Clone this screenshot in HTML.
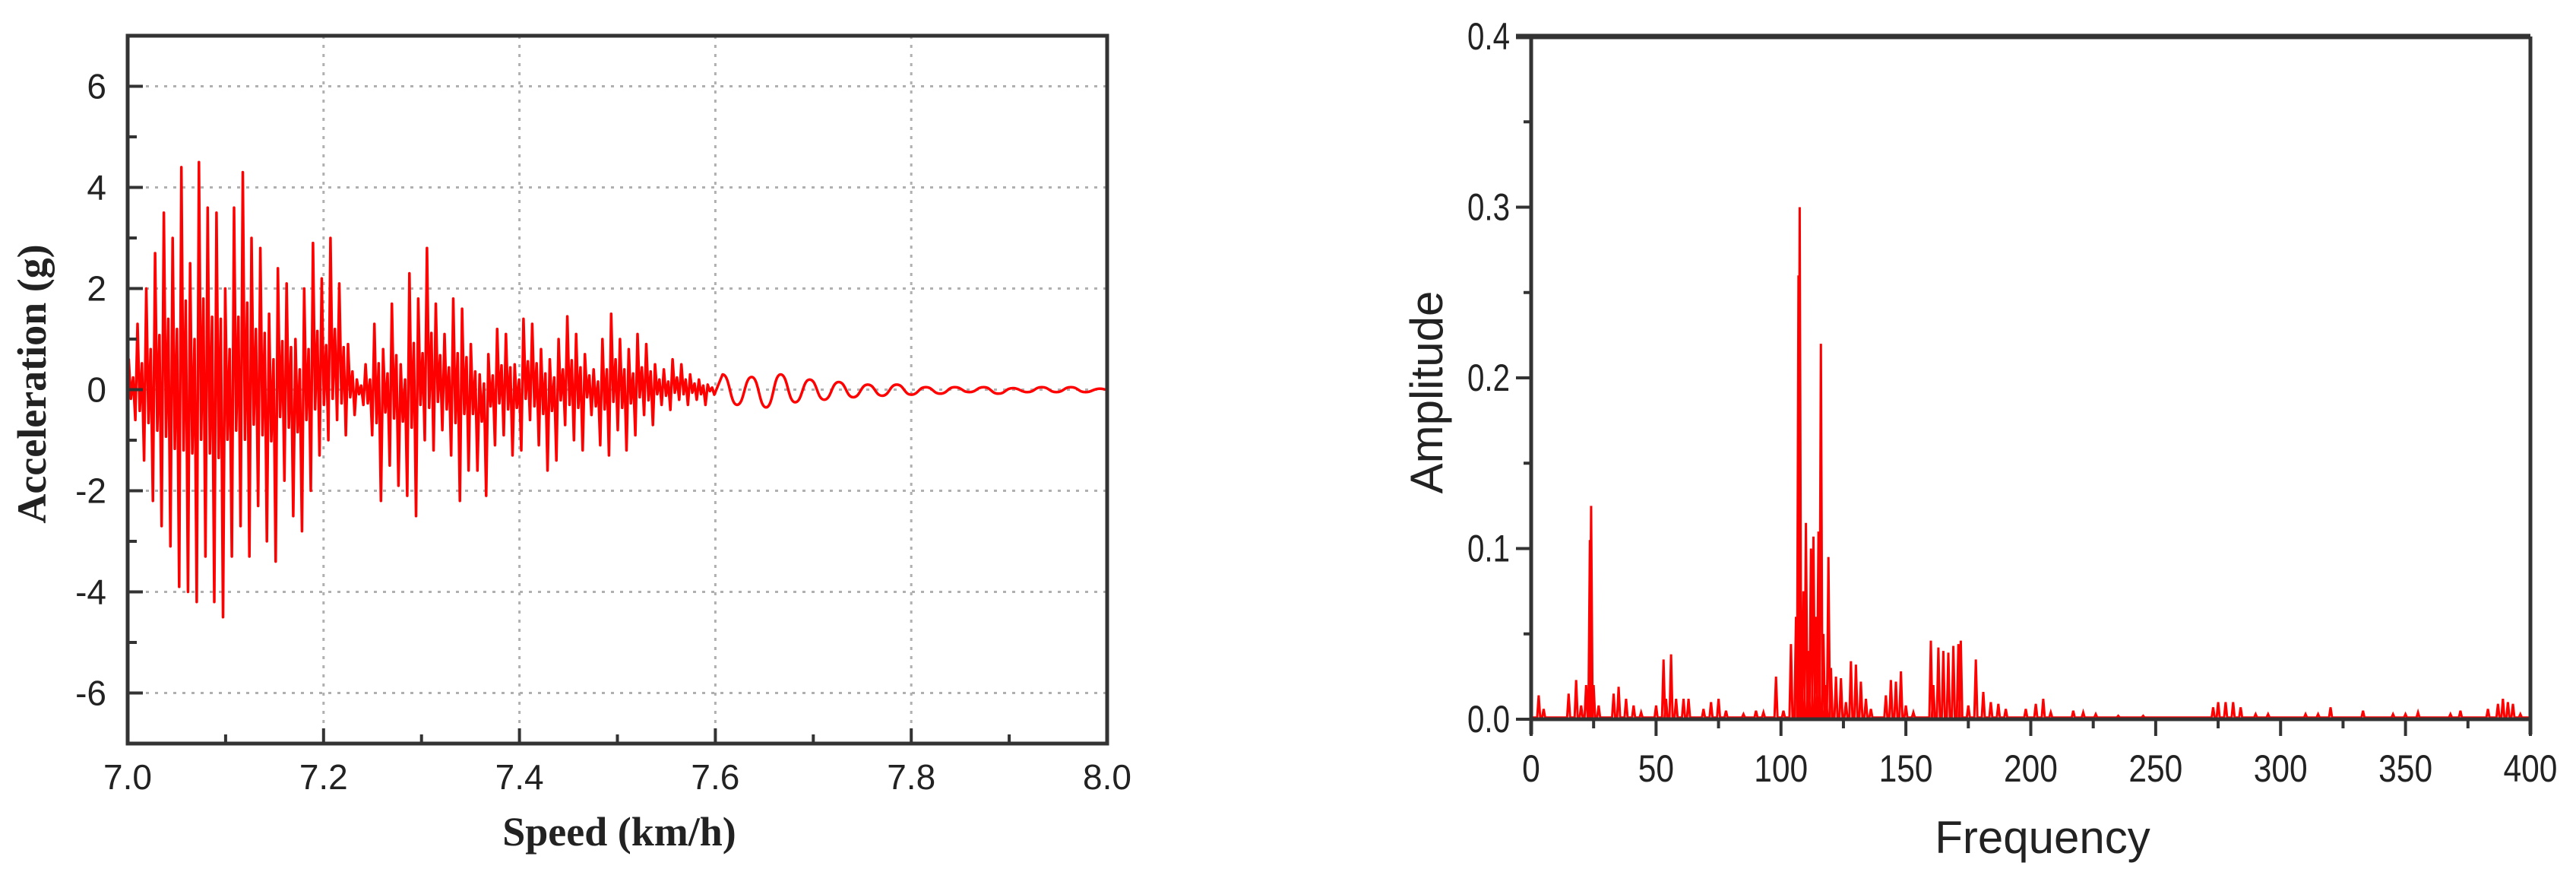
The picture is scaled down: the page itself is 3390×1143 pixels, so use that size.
<!DOCTYPE html>
<html><head><meta charset="utf-8"><style>
html,body{margin:0;padding:0;background:#fff;}
svg{display:block;}
</style></head><body>
<svg id="fig" width="3390" height="1143" xmlns="http://www.w3.org/2000/svg">
<g id="left"></g>
<g id="right"></g>
</svg>
<script>
// ---- Left chart data ----
const accXTicks = [7.0, 7.2, 7.4, 7.6, 7.8, 8.0];
const accXTickLabels = ["7.0","7.2","7.4","7.6","7.8","8.0"];
const accYTicks = [-6,-4,-2,0,2,4,6];
const accYTickLabels = ["-6","-4","-2","0","2","4","6"];
const accMaxima = [0.6,1.3,2.0,2.7,3.5,3.0,4.4,2.5,4.5,3.6,3.5,2.0,3.6,4.3,3.0,2.8,1.5,2.4,2.1,1.0,2.0,2.9,2.2,3.0,2.1,0.9,0.2,0.5,1.3,0.8,1.7,0.5,2.3,1.8,2.8,1.7,1.1,1.8,1.6,0.9,0.3,0.7,1.2,1.1,0.5,1.4,1.3,0.8,0.6,1.0,1.45,1.1,0.7,0.4,1.0,1.5,1.0,0.8,1.1,0.9,0.5,0.4,0.6,0.5,0.3,0.2,0.1];
const accMinima = [-0.6,-1.4,-2.2,-2.7,-3.1,-3.9,-4.0,-4.2,-3.3,-4.2,-4.5,-3.3,-2.7,-3.3,-2.3,-3.0,-3.4,-1.8,-2.5,-2.8,-2.0,-1.3,-1.0,-0.6,-0.9,-0.5,-0.3,-0.9,-2.2,-1.5,-1.9,-2.1,-2.5,-1.0,-1.2,-0.8,-1.3,-2.2,-1.6,-1.6,-2.1,-1.1,-0.9,-1.3,-1.2,-0.6,-1.1,-1.6,-1.4,-0.7,-1.0,-1.2,-0.5,-1.1,-1.3,-0.8,-1.2,-0.9,-0.5,-0.7,-0.3,-0.4,-0.2,-0.3,-0.2,-0.3,-0.1];
const accTail = [0.3,-0.3,0.25,-0.35,0.3,-0.25,0.2,-0.2,0.15,-0.15,0.1,-0.12,0.1,-0.1,0.05,-0.08,0.05,-0.05,0.05,-0.08,0.03,-0.05,0.05,-0.05,0.05,-0.05,0.02];

// ---- Right chart data ----
const specXTicks = [0,50,100,150,200,250,300,350,400];
const specXTickLabels = ["0","50","100","150","200","250","300","350","400"];
const specYTicks = [0,0.1,0.2,0.3,0.4];
const specYTickLabels = ["0.0","0.1","0.2","0.3","0.4"];
const specFreqs = [3,5,15,18,20,22,23.5,24,25,27,33,35,38,41,44,50,53,54,56,58,61,63,69,72,75,78,85,90,93,98,101,104,106,107,107.5,108,109,110,111,112,113,114,115,116,117,118,119,120,122,124,126,128,130,132,134,136,142,144,146,148,150,153,160,161,163,165,167,169,171,172,175,178,181,184,187,190,198,202,205,208,217,221,226,235,245,260,273,275,278,281,284,290,295,310,315,320,333,345,350,355,368,372,383,387,389,391,393,396];
const specAmps = [0.014,0.006,0.015,0.023,0.008,0.02,0.105,0.125,0.02,0.008,0.015,0.019,0.012,0.008,0.004,0.008,0.035,0.012,0.038,0.012,0.012,0.012,0.006,0.01,0.012,0.005,0.003,0.005,0.004,0.025,0.005,0.044,0.06,0.26,0.3,0.05,0.075,0.115,0.04,0.1,0.107,0.06,0.11,0.22,0.05,0.02,0.095,0.03,0.025,0.024,0.01,0.034,0.032,0.022,0.012,0.006,0.014,0.023,0.022,0.028,0.008,0.004,0.046,0.02,0.042,0.04,0.039,0.043,0.044,0.046,0.008,0.035,0.016,0.01,0.009,0.006,0.006,0.009,0.012,0.004,0.005,0.004,0.003,0.002,0.002,0.001,0.007,0.01,0.01,0.01,0.007,0.003,0.003,0.003,0.003,0.007,0.005,0.003,0.003,0.004,0.003,0.005,0.006,0.009,0.012,0.01,0.009,0.003];

const NS = "http://www.w3.org/2000/svg";
function mk(parent, tag, attrs, text){
  const e = document.createElementNS(NS, tag);
  for (const k in attrs) e.setAttribute(k, attrs[k]);
  if (text !== undefined) e.textContent = text;
  parent.appendChild(e);
  return e;
}

// ===== LEFT =====
(function(){
  const g = document.getElementById('left');
  const L=168, R=1457, T=47, B=978;
  const xs = v => L + (v-7)/(1)*(R-L);
  const ys = v => B - (v+7)/14*(B-T);
  accXTicks.forEach(v=>{
    if (v===7||v===8) return;
    const l = mk(g,'line',{x1:xs(v),x2:xs(v),y1:T,y2:B,stroke:'#b0b0b0','stroke-width':3,'stroke-dasharray':'4 8'});
    
    
  });
  accYTicks.forEach(v=>{
    const l = mk(g,'line',{x1:L,x2:R,y1:ys(v),y2:ys(v),stroke:'#b0b0b0','stroke-width':3,'stroke-dasharray':'4 8'});
    
    
  });
  const pts = [];
  const n = Math.min(accMaxima.length, accMinima.length);
  const step = 0.6/n;
  pts.push([7.0, 0]);
  for (let i=0;i<n;i++){
    const x0 = 7.0 + i*step;
    const mx = accMaxima[i], mn = accMinima[i];
    pts.push([x0 + 0.125*step, mx]);
    pts.push([x0 + 0.375*step, mn*0.3]);
    pts.push([x0 + 0.625*step, mx*0.4]);
    pts.push([x0 + 0.875*step, mn]);
  }
  const tstep = 0.4/accTail.length;
  const tailStart = pts.length;
  for (let i=0;i<accTail.length;i++){
    pts.push([7.6 + (i+0.5)*tstep, accTail[i]]);
  }
  pts.push([8.0, 0]);
  let d = '';
  for (let i=0;i<pts.length;i++){
    const [x,y]=pts[i];
    if (i===0) d += 'M'+xs(x).toFixed(1)+' '+ys(y).toFixed(1);
    else if (i>tailStart) {
      const [px,py]=pts[i-1];
      const mx=(xs(px)+xs(x))/2;
      d += ' C'+mx.toFixed(1)+' '+ys(py).toFixed(1)+' '+mx.toFixed(1)+' '+ys(y).toFixed(1)+' '+xs(x).toFixed(1)+' '+ys(y).toFixed(1);
    } else d += ' L'+xs(x).toFixed(1)+' '+ys(y).toFixed(1);
  }
  const p = mk(g,'path',{d:d,fill:'none',stroke:'#ff0000','stroke-width':3.5,'stroke-linejoin':'round'});
  
  
  const fr = mk(g,'rect',{x:L,y:T,width:R-L,height:B-T,fill:'none',stroke:'#333','stroke-width':5});
  
  
  for (let v=-7; v<=7; v++){
    const major = v%2===0;
    const t = mk(g,'line',{x1:L,x2:L+(major?20:12),y1:ys(v),y2:ys(v),stroke:'#333','stroke-width':4});
    
    
  }
  for (let k=0; k<=10; k++){
    const v = 7 + k/10;
    const major = k%2===0;
    const t = mk(g,'line',{x1:xs(v),x2:xs(v),y1:B,y2:B-(major?20:12),stroke:'#333','stroke-width':4});
    
    
  }
  accYTicks.forEach((v,i)=>{
    const t = mk(g,'text',{x:L-28,y:ys(v)+16,'text-anchor':'end','font-family':'Liberation Sans, sans-serif','font-size':46,fill:'#222'}, accYTickLabels[i]);
    
    
  });
  accXTicks.forEach((v,i)=>{
    const t = mk(g,'text',{x:xs(v),y:1038,'text-anchor':'middle','font-family':'Liberation Sans, sans-serif','font-size':46,fill:'#222'}, accXTickLabels[i]);
    
    
  });
  const xt = mk(g,'text',{x:815,y:1112,'text-anchor':'middle','font-family':'Liberation Serif, serif','font-size':54,'font-weight':'bold',fill:'#222'},'Speed (km/h)');
  
  
  const yt = mk(g,'text',{x:0,y:0,'text-anchor':'middle','font-family':'Liberation Serif, serif','font-size':54,'font-weight':'bold',fill:'#222',transform:'translate(60,505) rotate(-90)'},'Acceleration (g)');
  
  
})();

// ===== RIGHT =====
(function(){
  const g = document.getElementById('right');
  const L=2015, R=3330, T=48, B=946;
  const xs = v => L + v/400*(R-L);
  const ys = v => B - v/0.4*(B-T);
  let d = 'M'+xs(0)+' '+ys(0.001);
  specFreqs.forEach((f,i)=>{
    d += ' L'+(xs(f)-2).toFixed(1)+' '+ys(0.001).toFixed(1);
    d += ' L'+xs(f).toFixed(1)+' '+ys(specAmps[i]).toFixed(1);
    d += ' L'+(xs(f)+2).toFixed(1)+' '+ys(0.001).toFixed(1);
  });
  d += ' L'+xs(400)+' '+ys(0.001);
  const p = mk(g,'path',{d:d,fill:'none',stroke:'#ff0000','stroke-width':3,'stroke-linejoin':'miter'});
  
  
  const ax = [
    ['x-axis-line',L,B,R,B],['y-axis-line',L,T,L,B+20],['right-axis-line',R,T,R,B+20],['top-axis-line',L-20,T,R,T]
  ];
  ax.forEach(a=>{
    const l = mk(g,'line',{x1:a[1],y1:a[2],x2:a[3],y2:a[4],stroke:'#333','stroke-width':a[0]==='top-axis-line'?7:5});
    
    
  });
  for (let k=0;k<=8;k++){
    const v=k*0.05; const major=k%2===0;
    const t = mk(g,'line',{x1:L-(major?20:10),x2:L,y1:ys(v),y2:ys(v),stroke:'#333','stroke-width':4});
    
    
  }
  for (let k=0;k<=16;k++){
    const v=k*25; const major=k%2===0;
    const t = mk(g,'line',{x1:xs(v),x2:xs(v),y1:B,y2:B+(major?22:12),stroke:'#333','stroke-width':4});
    
    
  }
  specYTicks.forEach((v,i)=>{
    const t = mk(g,'text',{x:1987,y:ys(v)+17,'text-anchor':'end','font-family':'Liberation Sans, sans-serif','font-size':50,fill:'#222',textLength:56,lengthAdjust:'spacingAndGlyphs'}, specYTickLabels[i]);
    
    
  });
  specXTicks.forEach((v,i)=>{
    const t = mk(g,'text',{x:xs(v),y:1028,'text-anchor':'middle','font-family':'Liberation Sans, sans-serif','font-size':50,fill:'#222',transform:'translate('+xs(v)+',0) scale(0.85,1) translate('+(-xs(v))+',0)'}, specXTickLabels[i]);
    
    
  });
  const xt = mk(g,'text',{x:2688,y:1122,'text-anchor':'middle','font-family':'Liberation Sans, sans-serif','font-size':60,fill:'#222'},'Frequency');
  
  
  const yt = mk(g,'text',{x:0,y:0,'text-anchor':'middle','font-family':'Liberation Sans, sans-serif','font-size':60,fill:'#222',transform:'translate(1898,516) rotate(-90)'},'Amplitude');
  
  
})();
</script>
</body></html>
